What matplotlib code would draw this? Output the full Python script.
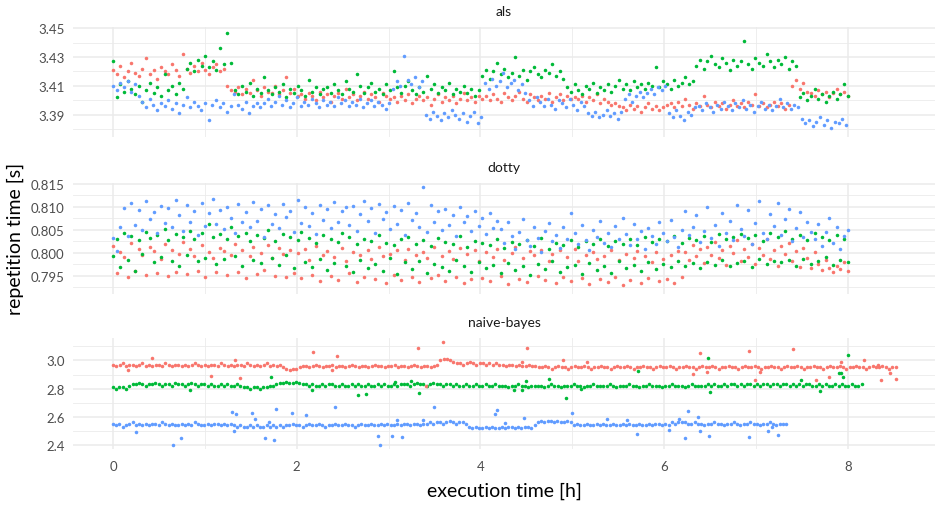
import numpy as np
import matplotlib
matplotlib.use("Agg")
import matplotlib.pyplot as plt

plt.rcParams['font.family'] = ['Lato', 'DejaVu Sans']

# Colores por defecto de ggplot (tres series)
colores = ["#F8766D", "#00BA38", "#619CFF"]

# ---------------- als: tiempos de repetición [s] ----------------
als_red = [
    3.421, 3.418, 3.424, 3.416, 3.420, 3.426, 3.419, 3.417, 3.422, 3.429,
    3.418, 3.421, 3.415, 3.423, 3.420, 3.418, 3.425, 3.421, 3.417, 3.432,
    3.422, 3.419, 3.424, 3.420, 3.426, 3.421, 3.418, 3.423, 3.425, 3.420,
    3.422, 3.410, 3.407,
    3.406, 3.409, 3.404, 3.408, 3.405, 3.414, 3.407, 3.403, 3.409, 3.406,
    3.405, 3.410, 3.404, 3.407, 3.416, 3.405, 3.408, 3.403,
    3.404, 3.401, 3.405, 3.403, 3.400, 3.406, 3.402, 3.404, 3.399, 3.403,
    3.405, 3.401, 3.408, 3.402, 3.404, 3.400, 3.403, 3.406, 3.401, 3.404,
    3.402, 3.399, 3.405, 3.403, 3.401,
    3.402, 3.399, 3.403, 3.400, 3.404, 3.398, 3.401, 3.403, 3.400, 3.402,
    3.397, 3.401, 3.404, 3.399, 3.402, 3.400, 3.403, 3.398, 3.401, 3.405,
    3.400, 3.402, 3.399, 3.403, 3.401,
    3.403, 3.400, 3.404, 3.401, 3.399, 3.405, 3.402, 3.400, 3.403, 3.406,
    3.401, 3.399, 3.404, 3.402, 3.400, 3.403, 3.401, 3.405, 3.399, 3.402,
    3.404, 3.400, 3.403, 3.401, 3.402,
    3.401, 3.403, 3.399, 3.402, 3.400, 3.404, 3.398, 3.401, 3.399, 3.397,
    3.398, 3.396,
    3.395, 3.393, 3.397, 3.394, 3.396, 3.392, 3.395, 3.398, 3.394, 3.396,
    3.393, 3.395, 3.397,
    3.398, 3.395, 3.399, 3.396, 3.401, 3.397, 3.394, 3.398, 3.396, 3.403,
    3.397, 3.395, 3.399, 3.396, 3.398, 3.394, 3.397, 3.400, 3.396, 3.398,
    3.395, 3.399, 3.397, 3.404, 3.396, 3.398, 3.395, 3.397, 3.399, 3.396,
    3.398, 3.394, 3.397,
    3.410, 3.414, 3.408, 3.412, 3.406,
    3.405, 3.403, 3.407, 3.404, 3.406, 3.402, 3.405, 3.408, 3.404, 3.406,
    3.403]
als_green = [
    3.427, 3.402, 3.411, 3.406, 3.413, 3.408, 3.404, 3.410, 3.399, 3.407,
    3.412, 3.405, 3.409, 3.403, 3.418, 3.407, 3.410, 3.404, 3.412, 3.408,
    3.422, 3.426, 3.420, 3.428, 3.424, 3.431, 3.423, 3.427, 3.421, 3.436,
    3.425, 3.447, 3.426,
    3.407, 3.404, 3.410, 3.406, 3.412, 3.403, 3.408, 3.405, 3.416, 3.407,
    3.404, 3.409, 3.406, 3.411, 3.402, 3.408, 3.405, 3.410, 3.407, 3.403,
    3.414, 3.406, 3.409, 3.404, 3.408,
    3.409, 3.405, 3.411, 3.407, 3.404, 3.413, 3.408, 3.406, 3.418, 3.410,
    3.405, 3.409, 3.412, 3.406, 3.408, 3.404, 3.411, 3.407, 3.420, 3.409,
    3.405, 3.410, 3.413, 3.407, 3.404, 3.409, 3.406, 3.417, 3.408, 3.411,
    3.405, 3.409, 3.407, 3.412, 3.404, 3.408, 3.406, 3.410, 3.405, 3.408,
    3.403, 3.407,
    3.417, 3.421, 3.415, 3.420, 3.426, 3.418, 3.422, 3.416, 3.419, 3.430,
    3.417, 3.421, 3.414, 3.420, 3.423, 3.418, 3.416, 3.421, 3.419, 3.425,
    3.417, 3.420, 3.415,
    3.409, 3.406, 3.411, 3.407, 3.404, 3.410, 3.408, 3.412, 3.405, 3.409,
    3.407, 3.411, 3.406, 3.410, 3.414, 3.408, 3.411, 3.407, 3.413, 3.409,
    3.411, 3.408, 3.412, 3.410, 3.423, 3.409, 3.413, 3.411, 3.408, 3.414,
    3.410, 3.412, 3.416, 3.411, 3.413,
    3.424, 3.428, 3.422, 3.427, 3.431, 3.425, 3.423, 3.429, 3.426, 3.421,
    3.428, 3.424, 3.427, 3.441, 3.425, 3.422, 3.429, 3.426, 3.424, 3.432,
    3.427, 3.423, 3.428, 3.425, 3.430, 3.422, 3.427, 3.424,
    3.402, 3.405, 3.400, 3.403, 3.408, 3.401, 3.404, 3.399, 3.403, 3.406,
    3.401, 3.404, 3.411, 3.403]
als_blue = [
    3.410, 3.407, 3.412, 3.409, 3.413, 3.406, 3.411, 3.403,
    3.399, 3.395, 3.401, 3.397, 3.393, 3.398, 3.396, 3.400, 3.394, 3.398,
    3.391, 3.397, 3.402, 3.395, 3.399, 3.396, 3.393, 3.398, 3.386, 3.397,
    3.400, 3.395, 3.398, 3.392, 3.396, 3.404, 3.397, 3.394, 3.399, 3.391,
    3.396, 3.398, 3.395,
    3.398, 3.401, 3.396, 3.399, 3.403, 3.397, 3.400, 3.395, 3.398, 3.402,
    3.396, 3.399, 3.397, 3.401, 3.398, 3.395, 3.400, 3.397, 3.399, 3.396,
    3.402, 3.398, 3.400, 3.396, 3.399, 3.397, 3.401, 3.395, 3.398, 3.400,
    3.396, 3.399, 3.397, 3.394, 3.398,
    3.408, 3.413, 3.410, 3.431, 3.414, 3.411, 3.416, 3.409, 3.413,
    3.390, 3.387, 3.392, 3.389, 3.386, 3.391, 3.388, 3.393, 3.390, 3.387,
    3.391, 3.385, 3.389, 3.392, 3.384, 3.388,
    3.412, 3.408, 3.415, 3.410, 3.413, 3.419, 3.409, 3.412, 3.414, 3.407,
    3.411, 3.405, 3.400, 3.396, 3.402,
    3.399, 3.396, 3.401, 3.397, 3.394, 3.400, 3.398, 3.395, 3.401, 3.397,
    3.393, 3.399, 3.396,
    3.391, 3.389, 3.392, 3.388, 3.390, 3.393, 3.389, 3.391, 3.387, 3.392,
    3.401, 3.404, 3.399, 3.403, 3.406, 3.402, 3.405, 3.408, 3.404, 3.409,
    3.407, 3.410,
    3.391, 3.388, 3.393, 3.389, 3.386, 3.392, 3.390, 3.395,
    3.396, 3.393, 3.398, 3.395, 3.392, 3.397, 3.394, 3.399, 3.396, 3.393,
    3.398, 3.395, 3.400, 3.394, 3.397, 3.392, 3.396, 3.399, 3.394, 3.397,
    3.393, 3.396, 3.401, 3.395, 3.398, 3.394, 3.397, 3.395,
    3.387, 3.384, 3.386, 3.382, 3.385, 3.388, 3.383, 3.386, 3.381, 3.385,
    3.384, 3.387, 3.383]

# ---------------- dotty ----------------
dotty_red = [
    0.8015, 0.7956, 0.8002, 0.7991, 0.7948, 0.8021, 0.7961, 0.8008, 0.7995, 0.7952,
    0.8012, 0.8003, 0.7955, 0.7987, 0.8018, 0.7949, 0.8006, 0.7958, 0.7998, 0.8024,
    0.7953, 0.8009, 0.7992, 0.7960, 0.8016, 0.7946, 0.8001, 0.7989, 0.7957, 0.8011,
    0.8004, 0.7951, 0.7996, 0.8019, 0.7959, 0.8007, 0.7944, 0.7993, 0.8013, 0.7954,
    0.8000, 0.7962, 0.8017, 0.7988, 0.7950, 0.8010, 0.7997, 0.7947, 0.8005, 0.7956,
    0.7999, 0.7945, 0.8008, 0.7985, 0.7952, 0.8014, 0.7938, 0.7994, 0.8003, 0.7949,
    0.7990, 0.7941, 0.8011, 0.7983, 0.7955, 0.8001, 0.7936, 0.7996, 0.7946, 0.8007,
    0.7987, 0.7943, 0.8013, 0.7992, 0.7933, 0.7998, 0.7951, 0.8005, 0.7940, 0.7984,
    0.8009, 0.7947, 0.7995, 0.7937, 0.8002, 0.7989, 0.7944, 0.8012, 0.7952, 0.7993,
    0.7939, 0.8004, 0.7986, 0.7948, 0.8010, 0.7934, 0.7997, 0.7942, 0.8006, 0.7982,
    0.7945, 0.8001, 0.7938, 0.7991, 0.8008, 0.7950, 0.7985, 0.7932, 0.7999, 0.8012,
    0.7943, 0.7988, 0.7936, 0.8003, 0.7994, 0.7949, 0.8007, 0.7940, 0.7983, 0.7997,
    0.7935, 0.8005, 0.7946, 0.7990, 0.7939, 0.8009, 0.7981, 0.7944, 0.7996, 0.7931,
    0.8002, 0.7987, 0.7942, 0.7993, 0.7937, 0.8006, 0.7948, 0.7984, 0.7929, 0.7998,
    0.7941, 0.7989, 0.8004, 0.7934, 0.7992, 0.7945, 0.7980, 0.8001, 0.7938, 0.7986,
    0.7943, 0.7995, 0.7933, 0.8003, 0.7947,
    0.8002, 0.7985, 0.8017, 0.7993, 0.8009, 0.7978, 0.8012, 0.7996, 0.8024, 0.7988,
    0.8005, 0.7974, 0.8015, 0.7999, 0.8027, 0.7983, 0.8008, 0.7991, 0.8019, 0.7976,
    0.8011, 0.7995, 0.8030, 0.7986, 0.8006, 0.7972, 0.8014, 0.7998, 0.8022, 0.7981,
    0.8003, 0.7969, 0.8010, 0.7989, 0.7966, 0.8001, 0.7975, 0.7962, 0.7984, 0.7967,
    0.7958, 0.7971, 0.7964, 0.7979, 0.7961]
dotty_green = [
    0.7992, 0.8031, 0.7968, 0.8042, 0.7985, 0.8036, 0.7961, 0.8028, 0.7997, 0.8045,
    0.8033, 0.7979, 0.8039, 0.7990, 0.8052, 0.8027, 0.7983, 0.8041, 0.7972, 0.8035,
    0.7994, 0.8048, 0.8030, 0.7981, 0.8043, 0.7988, 0.8062, 0.8034, 0.7976, 0.8040,
    0.7987, 0.8029, 0.8055, 0.7993, 0.8037, 0.7970, 0.8044, 0.8026, 0.7984, 0.8038,
    0.7978, 0.8032, 0.8049, 0.7989, 0.8025, 0.7974, 0.8040, 0.7995, 0.8034, 0.7966,
    0.8028, 0.8046, 0.7980, 0.8033, 0.7969, 0.8021, 0.7986, 0.8039, 0.7963, 0.8030,
    0.7977, 0.8024, 0.8043, 0.7972, 0.8035, 0.7958, 0.8019, 0.7984, 0.8031, 0.7967,
    0.8026, 0.7975, 0.8038, 0.7961, 0.8022, 0.7988, 0.8017, 0.7953, 0.8029, 0.7979,
    0.8034, 0.7964, 0.8020, 0.7982, 0.8027, 0.7956, 0.8015, 0.7976, 0.8032, 0.7969,
    0.8023, 0.7960, 0.8018, 0.7985, 0.8037, 0.7971, 0.8012, 0.7957, 0.8026, 0.7980,
    0.8021, 0.7966, 0.8016, 0.7973, 0.8030, 0.7955, 0.8011, 0.7978, 0.8024, 0.7962,
    0.8019, 0.7970, 0.8027, 0.7951, 0.8014, 0.7975, 0.8033, 0.7965, 0.8009, 0.7981,
    0.8022, 0.7958, 0.8017, 0.7968, 0.8028, 0.7974, 0.8013, 0.7953, 0.8025, 0.7977,
    0.8020, 0.7963, 0.8031, 0.7971, 0.8015, 0.7956, 0.8026, 0.7982, 0.8018, 0.7967,
    0.8029, 0.7973, 0.8016, 0.7960, 0.8034, 0.7979, 0.8023, 0.7964, 0.8030, 0.7976,
    0.8025, 0.7969, 0.8037, 0.7983, 0.8021, 0.7972, 0.8033, 0.7978, 0.8027, 0.7966,
    0.8036, 0.7980, 0.8024, 0.7974, 0.8040, 0.7985, 0.8029, 0.7971, 0.8035, 0.7977,
    0.8041, 0.7983, 0.8032, 0.7968, 0.8038, 0.7987, 0.8026, 0.7975, 0.8043, 0.7981,
    0.8034, 0.7979, 0.8047, 0.7984, 0.8030, 0.7972, 0.8039, 0.7986, 0.8028, 0.7976,
    0.8044, 0.7982, 0.8035, 0.7990, 0.8027, 0.7974, 0.8038, 0.7985, 0.8031, 0.7979]
dotty_blue = [
    0.8032, 0.8003, 0.8055, 0.8098, 0.8036,
    0.8108, 0.8061, 0.8094, 0.8049, 0.8112, 0.8073, 0.8088, 0.8042, 0.8101, 0.8065,
    0.8097, 0.8056, 0.8115, 0.8083, 0.8047, 0.8104, 0.8068, 0.8091, 0.8039, 0.8109,
    0.8059, 0.8086, 0.8118, 0.8063, 0.8093, 0.8051, 0.8100, 0.8076, 0.8044, 0.8106,
    0.8066, 0.8089, 0.8057, 0.8111, 0.8070, 0.8096, 0.8035, 0.8103, 0.8062, 0.8085,
    0.8053, 0.8107, 0.8078, 0.8092, 0.8046, 0.8114, 0.8064, 0.8099, 0.8058, 0.8087,
    0.8041, 0.8105, 0.8071, 0.8095, 0.8054, 0.8110, 0.8067, 0.8090, 0.8099, 0.8060,
    0.8102, 0.8048, 0.8084, 0.8113, 0.8069, 0.8097, 0.8043, 0.8106, 0.8074, 0.8088,
    0.8052, 0.8101, 0.8063, 0.8093, 0.8038, 0.8108, 0.8072, 0.8086, 0.8055, 0.8143,
    0.8045, 0.8104, 0.8066, 0.8090, 0.8050, 0.8096, 0.8061, 0.8083, 0.8037, 0.8100,
    0.8068, 0.8079, 0.8047, 0.8092, 0.8058, 0.8075, 0.8040, 0.8087, 0.8053, 0.8070,
    0.8052, 0.8021, 0.8068, 0.8036, 0.8009, 0.8045, 0.8073, 0.8028, 0.8014, 0.8057,
    0.8033, 0.8002, 0.8048, 0.8064, 0.8025, 0.8039, 0.8011, 0.8055, 0.8030, 0.8086,
    0.8043, 0.8018, 0.8061, 0.8027, 0.8005, 0.8050, 0.8035, 0.8069, 0.8022, 0.8044,
    0.8012, 0.8058, 0.8031, 0.8076, 0.8040, 0.8016, 0.8063, 0.8029, 0.8047, 0.8008,
    0.8054, 0.8037, 0.8019, 0.8066, 0.8042, 0.8026, 0.8071, 0.8034, 0.8013, 0.8049,
    0.8091, 0.8038, 0.8056, 0.8082, 0.8024, 0.8047, 0.8099, 0.8033, 0.8061, 0.8015,
    0.8087, 0.8042, 0.8070, 0.8028, 0.8104, 0.8051, 0.8036, 0.8094, 0.8019, 0.8065,
    0.8112, 0.8044, 0.8030, 0.8085, 0.8058, 0.8108, 0.8039, 0.8073, 0.8096, 0.8025,
    0.8053, 0.8089, 0.8034, 0.8067, 0.8046,
    0.8031, 0.8062, 0.8014, 0.8045, 0.8075, 0.8022, 0.8056, 0.8008, 0.8037, 0.8049]

# ---------------- naive-bayes (bandas principales) ----------------
nb_red = [
    2.97, 2.96, 2.97, 2.98, 2.96, 2.97, 2.97, 2.96, 2.97, 2.98,
    2.96, 2.97, 2.96, 2.97, 2.97, 2.96, 2.98, 2.97, 2.96, 2.97,
    2.97, 2.96, 2.97, 2.96, 2.97, 2.98, 2.97, 2.96, 2.97, 2.96,
    2.97, 2.97, 2.96, 2.98, 2.97, 2.96, 2.97, 2.96, 2.97, 2.97,
    2.96, 2.98, 2.97, 2.96, 2.97, 2.96, 2.97, 2.98, 2.96, 2.97,
    2.96, 2.97,
    2.95, 2.94, 2.93, 2.94, 2.94, 2.95,
    2.96, 2.96, 2.95, 2.96, 2.97, 2.96, 2.95, 2.96, 2.96, 2.97,
    2.95, 2.96, 2.96, 2.95, 2.96, 2.97, 2.96, 2.95, 2.96, 2.96,
    2.95, 2.96, 2.97, 2.96, 2.96, 2.95, 2.96, 2.96, 2.97, 2.95,
    2.96, 2.96, 2.95, 2.96, 2.97, 2.96, 2.95, 2.96, 2.96, 2.95,
    2.96, 2.97,
    3.00, 3.01, 3.01, 3.00, 2.99,
    2.98, 2.98, 2.97, 2.98, 2.99, 2.98, 2.97, 2.98, 2.98, 2.97,
    2.98, 2.97, 2.98, 2.97, 2.97, 2.96, 2.97, 2.97, 2.96, 2.97,
    2.96, 2.96, 2.97, 2.96, 2.96,
    2.95, 2.95, 2.96, 2.95, 2.94, 2.95, 2.96, 2.95, 2.95, 2.94,
    2.95, 2.96, 2.95, 2.95, 2.96, 2.95, 2.94, 2.95, 2.95, 2.96,
    2.95, 2.95, 2.94, 2.95, 2.96, 2.95, 2.95, 2.96, 2.95, 2.94,
    2.95, 2.95, 2.96, 2.95, 2.95, 2.94, 2.95, 2.96, 2.95, 2.95,
    2.96, 2.95, 2.94, 2.95, 2.95, 2.96, 2.95, 2.95, 2.94, 2.95,
    2.96, 2.95, 2.95, 2.96, 2.95, 2.94, 2.95, 2.95, 2.96, 2.95,
    2.95, 2.94, 2.95, 2.96, 2.95, 2.95, 2.96, 2.95, 2.94, 2.95,
    2.95, 2.96, 2.95, 2.95, 2.94, 2.95, 2.96, 2.95, 2.95, 2.96,
    2.95, 2.94, 2.95, 2.95, 2.96, 2.95, 2.95, 2.94, 2.95, 2.96,
    2.95, 2.95, 2.96, 2.95, 2.94, 2.95, 2.95, 2.96, 2.95, 2.95,
    2.94, 2.95, 2.96, 2.95, 2.95, 2.96, 2.95, 2.94, 2.95, 2.95]
nb_green = [
    2.81, 2.80, 2.81, 2.81, 2.80,
    2.82, 2.83, 2.83, 2.84, 2.83, 2.82, 2.83, 2.83, 2.84, 2.83,
    2.82, 2.83, 2.83, 2.82, 2.84, 2.83, 2.83, 2.82, 2.83, 2.84,
    2.83, 2.82, 2.83, 2.83,
    2.82, 2.83, 2.82, 2.82, 2.83, 2.82, 2.83, 2.82, 2.82, 2.83, 2.82, 2.81,
    2.81, 2.80, 2.81, 2.81, 2.80, 2.81, 2.81, 2.82, 2.82,
    2.83, 2.84, 2.84, 2.85, 2.84, 2.84, 2.85, 2.84, 2.83, 2.83,
    2.82, 2.83, 2.82, 2.82, 2.83, 2.82, 2.83, 2.83, 2.82, 2.82,
    2.83, 2.82, 2.82, 2.83, 2.82, 2.83, 2.82, 2.82, 2.83, 2.82,
    2.82, 2.83, 2.82, 2.83, 2.82, 2.82, 2.83, 2.82, 2.83, 2.83,
    2.83, 2.82, 2.83, 2.84, 2.83, 2.83, 2.82, 2.83, 2.84, 2.83,
    2.83, 2.82, 2.83, 2.83, 2.82, 2.83, 2.82, 2.82, 2.83, 2.82,
    2.82, 2.83, 2.82, 2.82, 2.83, 2.82, 2.82, 2.83, 2.82, 2.82,
    2.82, 2.81, 2.82, 2.82, 2.83, 2.82, 2.82, 2.81, 2.82, 2.82,
    2.82, 2.82, 2.81, 2.82, 2.83, 2.82, 2.82, 2.81, 2.82, 2.82,
    2.82, 2.83, 2.82, 2.82, 2.81, 2.82, 2.82, 2.83, 2.82, 2.82,
    2.82, 2.82, 2.83, 2.82, 2.81, 2.82, 2.82, 2.82, 2.83, 2.82,
    2.82, 2.81, 2.82, 2.82, 2.83, 2.82, 2.82, 2.82, 2.81, 2.82,
    2.82, 2.83, 2.82, 2.82, 2.82, 2.81, 2.82, 2.83, 2.82, 2.82,
    2.82, 2.82, 2.83, 2.82, 2.83, 2.82, 2.82, 2.83, 2.82, 2.83,
    2.83, 2.82, 2.83, 2.82, 2.83, 2.83, 2.82, 2.83, 2.82, 2.83,
    2.83, 2.82, 2.83, 2.83, 2.82, 2.83, 2.83, 2.82, 2.83, 2.82,
    2.83, 2.82, 2.83, 2.83, 2.82, 2.82, 2.83, 2.82, 2.83, 2.82,
    2.82, 2.83, 2.82, 2.83, 2.82, 2.82, 2.83, 2.82, 2.82, 2.83]
nb_blue = [
    2.55, 2.54, 2.55, 2.53, 2.54, 2.55, 2.56, 2.54, 2.55, 2.54,
    2.55, 2.54, 2.55, 2.55, 2.54, 2.56, 2.55, 2.54, 2.55, 2.54,
    2.54, 2.55, 2.54, 2.55, 2.54, 2.56, 2.55, 2.54, 2.54, 2.55,
    2.54, 2.55, 2.55, 2.54, 2.55, 2.54, 2.55,
    2.54, 2.53, 2.54, 2.53, 2.53, 2.54, 2.53, 2.54, 2.53, 2.53,
    2.54, 2.53, 2.54, 2.53, 2.54, 2.53, 2.54,
    2.54, 2.55, 2.54, 2.54, 2.53, 2.54, 2.55, 2.54, 2.54, 2.55,
    2.54, 2.53, 2.54, 2.54, 2.55, 2.54, 2.54, 2.55, 2.54, 2.54,
    2.53, 2.54, 2.55, 2.54, 2.54, 2.55, 2.54, 2.54, 2.55, 2.54,
    2.55, 2.54, 2.54, 2.55, 2.54, 2.55, 2.55, 2.54, 2.55, 2.55,
    2.54, 2.55,
    2.55, 2.56, 2.55, 2.56, 2.56, 2.55, 2.56, 2.57, 2.56, 2.55,
    2.56, 2.56, 2.55,
    2.53, 2.52, 2.53, 2.52, 2.52, 2.53, 2.52, 2.53, 2.52, 2.52,
    2.53, 2.52, 2.53, 2.53, 2.52, 2.53, 2.52, 2.53, 2.53, 2.52,
    2.54,
    2.56, 2.57, 2.56, 2.57, 2.57, 2.56, 2.57, 2.56, 2.56, 2.57, 2.56,
    2.54, 2.55, 2.54, 2.54, 2.55, 2.54, 2.54, 2.55, 2.54, 2.55,
    2.54, 2.54, 2.55, 2.54, 2.54, 2.55, 2.54, 2.55, 2.54, 2.54,
    2.55, 2.54, 2.54, 2.55, 2.54, 2.55, 2.55, 2.54, 2.55, 2.54,
    2.56, 2.55, 2.56, 2.56,
    2.56, 2.55, 2.55, 2.56, 2.55, 2.55, 2.54, 2.55, 2.55, 2.56,
    2.55, 2.55, 2.54, 2.55, 2.55, 2.56, 2.55, 2.54, 2.55, 2.55,
    2.56, 2.55, 2.55, 2.54, 2.55, 2.55, 2.56, 2.55, 2.54, 2.55,
    2.55, 2.55]

# naive-bayes: repeticiones atípicas (hora, segundos)
nb_red_out_t = [0.16, 0.42, 1.07, 1.33, 1.38, 2.18, 2.38, 2.44, 3.32, 3.41,
                3.59, 4.45, 4.51, 4.90, 5.16, 6.32, 6.39, 6.47, 6.93, 6.99,
                7.04, 7.40, 7.65, 7.80, 7.93, 8.18, 8.33, 8.36, 8.46, 8.52]
nb_red_out_v = [2.93, 3.02, 2.89, 3.00, 2.875, 3.06, 2.93, 3.03, 3.09, 2.82,
                3.13, 2.99, 3.09, 3.005, 2.99, 2.905, 3.05, 2.92, 3.07, 2.86,
                2.92, 3.08, 2.86, 2.88, 2.99, 3.005, 2.97, 2.86, 2.91, 2.87]
nb_green_out_t = [0.84, 1.72, 2.17, 2.67, 2.75, 3.07, 3.25, 3.33, 4.37, 4.45,
                  4.50, 4.75, 4.93, 5.10, 5.72, 6.48, 6.50, 7.49, 7.70, 7.90,
                  7.93, 7.95, 8.00]
nb_green_out_v = [2.79, 2.88, 2.79, 2.756, 2.76, 2.85, 2.855, 2.77, 2.79, 2.79,
                  2.855, 2.87, 2.735, 2.80, 2.925, 3.02, 2.775, 2.86, 2.785, 2.91,
                  2.91, 2.88, 3.035]
nb_blue_out_t = [0.25, 0.65, 0.74, 1.30, 1.32, 1.34, 1.51, 1.55, 1.66, 1.70,
                 1.75, 1.78, 1.95, 2.10, 2.42, 2.89, 2.91, 3.04, 3.09, 3.15,
                 3.38, 3.49, 4.16, 4.18, 4.27, 4.48, 5.00, 5.38, 5.60, 5.71,
                 6.05, 6.16, 6.23, 6.26, 6.37, 6.39, 6.49, 6.92, 7.13, 7.17, 7.24]
nb_blue_out_v = [2.49, 2.40, 2.45, 2.635, 2.50, 2.62, 2.63, 2.585, 2.45, 2.565,
                 2.435, 2.655, 2.63, 2.615, 2.67, 2.465, 2.40, 2.465, 2.58, 2.46,
                 2.58, 2.67, 2.62, 2.65, 2.555, 2.59, 2.625, 2.585, 2.58, 2.48,
                 2.51, 2.585, 2.45, 2.64, 2.60, 2.50, 2.465, 2.455, 2.50, 2.53, 2.47]

# Hora final de cada serie
als_fin = [8.0, 8.0, 7.98]
dotty_fin = [8.0, 8.0, 8.0]
nb_fin = [8.52, 8.15, 7.33]

# Marcas y etiquetas del eje y de cada panel
als_ticks = [3.39, 3.41, 3.43, 3.45]
dotty_ticks = [0.795, 0.800, 0.805, 0.810, 0.815]
nb_ticks = [2.4, 2.6, 2.8, 3.0]
x_ticks = [0, 2, 4, 6, 8]


def tiempos(valores, fin):
    # repeticiones consecutivas: la hora de cada una dentro de la ejecución
    return np.linspace(0, fin, len(valores))


fig = plt.figure(figsize=(9.35, 5.06), dpi=100)
W, H = 935.0, 506.0

paneles = [
    ("als", [als_red, als_green, als_blue], als_fin, (3.3744, 3.4509),
     als_ticks, [3.38, 3.40, 3.42, 3.44], ["3.39", "3.41", "3.43", "3.45"], 28, 138),
    ("dotty", [dotty_red, dotty_green, dotty_blue], dotty_fin, (0.7910, 0.8152),
     dotty_ticks, [0.7925, 0.7975, 0.8025, 0.8075, 0.8125],
     ["0.795", "0.800", "0.805", "0.810", "0.815"], 184, 295),
    ("naive-bayes", [nb_red, nb_green, nb_blue], nb_fin, (2.372, 3.159),
     nb_ticks, [2.5, 2.7, 2.9, 3.1], ["2.4", "2.6", "2.8", "3.0"], 339, 450),
]

tam = 6.5
izq, der = 73, 935
for k, (nombre, series, fines, ylim, yt, ymin, ylab, top, bot) in enumerate(paneles):
    ax = fig.add_axes([izq / W, 1 - bot / H, (der - izq) / W, (bot - top) / H])
    for sp in ax.spines.values():
        sp.set_visible(False)
    ax.set_xlim(-0.435, 8.95)
    ax.set_ylim(*ylim)
    ax.set_xticks(x_ticks)
    ax.set_xticks([1, 3, 5, 7], minor=True)
    ax.set_yticks(yt)
    ax.set_yticks(ymin, minor=True)
    ax.set_yticklabels(ylab)
    ax.grid(which="major", color="#EBEBEB", linewidth=1.1)
    ax.grid(which="minor", color="#EBEBEB", linewidth=0.6)
    ax.set_axisbelow(True)
    ax.tick_params(which="both", length=0, labelsize=9.5, labelcolor="#4D4D4D", pad=6)
    if k < 2:
        ax.tick_params(labelbottom=False)
    else:
        ax.tick_params(axis="x", pad=8)

    for valores, fin, color in zip(series, fines, colores):
        ax.scatter(tiempos(valores, fin), valores, s=tam, color=color, linewidths=0)

    if nombre == "naive-bayes":
        ax.scatter(nb_red_out_t, nb_red_out_v, s=tam, color=colores[0], linewidths=0)
        ax.scatter(nb_green_out_t, nb_green_out_v, s=tam, color=colores[1], linewidths=0)
        ax.scatter(nb_blue_out_t, nb_blue_out_v, s=tam, color=colores[2], linewidths=0)

    fig.text((izq + der) / 2 / W, 1 - (top - 16) / H, nombre, ha="center", va="center",
             fontsize=10, color="#1A1A1A")

fig.text((izq + der) / 2 / W, 1 - 491 / H, "execution time [h]", ha="center",
         va="center", fontsize=14, color="black")
fig.text(15 / W, 1 - 239 / H, "repetition time [s]", ha="center", va="center",
         rotation=90, fontsize=14, color="black")

fig.savefig("out.png", dpi=100)
